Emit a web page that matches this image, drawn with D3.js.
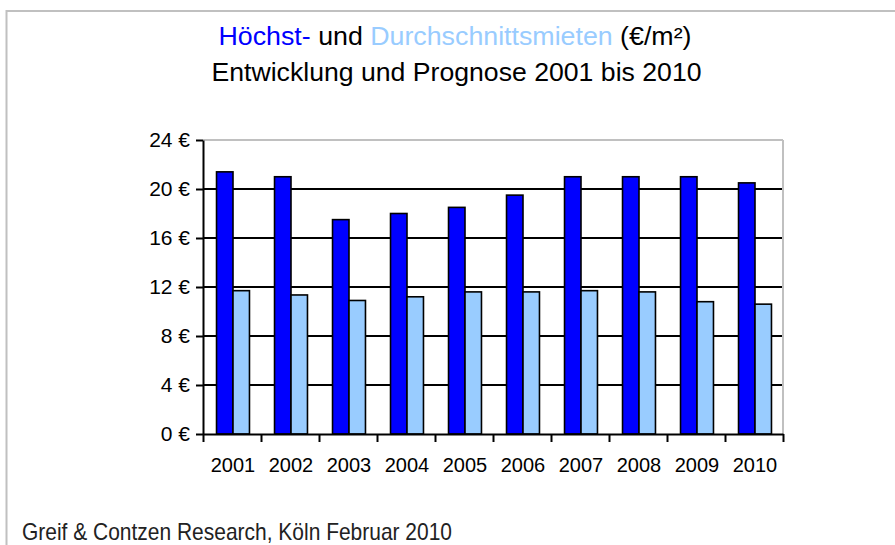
<!DOCTYPE html>
<html>
<head>
<meta charset="utf-8">
<script src="https://cdn.jsdelivr.net/npm/d3@7"></script>
<style>
  body { margin: 0; background: #fff; }
  text { font-family: "Liberation Sans", Arial, Helvetica, sans-serif; }
</style>
</head>
<body>
<script>
// Daten: Hoechst- und Durchschnittsmieten (EUR/m2)
var years = ["2001","2002","2003","2004","2005","2006","2007","2008","2009","2010"]
var hoechst = [21.4, 21.0, 17.5, 18.0, 18.5, 19.5, 21.0, 21.0, 21.0, 20.5]
var durchschnitt = [11.7, 11.35, 10.9, 11.2, 11.6, 11.6, 11.7, 11.6, 10.8, 10.6]
var yTicks = [0, 4, 8, 12, 16, 20, 24]
var seriesNames = ["Höchst", "Durchschnitt"]
var seriesColors = ["#0000ff", "#99ccff"]

var width = 895, height = 545
var plot = {left: 203, right: 783, top: 140, bottom: 434}

var svg = d3.select("body").append("svg")
    .attr("width", width).attr("height", height)

// outer frame
svg.append("rect")
    .attr("x", 6.5).attr("y", 11)
    .attr("width", 900).attr("height", 600)
    .attr("fill", "none").attr("stroke", "#c0c0c0").attr("stroke-width", 2)

// title
var t1 = svg.append("text")
    .attr("x", 455).attr("y", 45)
    .attr("text-anchor", "middle")
    .attr("font-size", 25.5)
    .attr("textLength", 473).attr("lengthAdjust", "spacingAndGlyphs")
t1.append("tspan").attr("fill", seriesColors[0]).text("Höchst-")
t1.append("tspan").attr("fill", "#000").text(" und ")
t1.append("tspan").attr("fill", seriesColors[1]).text("Durchschnittsmieten")
t1.append("tspan").attr("fill", "#000").text(" (€/m²)")

svg.append("text")
    .attr("x", 456.5).attr("y", 81)
    .attr("text-anchor", "middle")
    .attr("font-size", 25.5)
    .attr("textLength", 490).attr("lengthAdjust", "spacingAndGlyphs")
    .text("Entwicklung und Prognose 2001 bis 2010")

// scales
var y = d3.scaleLinear().domain([0, 24]).range([plot.bottom, plot.top])
var x = d3.scaleBand().domain(years).range([plot.left, plot.right]).padding(0)
var x1 = d3.scaleBand().domain(seriesNames).range([0, x.bandwidth()])
    .paddingInner(0).paddingOuter(0.76)
var xb = d3.scaleLinear().domain([0, years.length]).range([plot.left, plot.right])

// gridlines (black), top one is plot border (grey)
svg.append("g").selectAll("line")
    .data(yTicks.filter(function(d){ return d > 0 }))
    .enter().append("line")
    .attr("x1", plot.left).attr("x2", plot.right)
    .attr("y1", function(d){ return y(d) }).attr("y2", function(d){ return y(d) })
    .attr("stroke", function(d){ return d == 24 ? "#c0c0c0" : "#000" })
    .attr("stroke-width", 2)

// right plot border
svg.append("line")
    .attr("x1", plot.right).attr("x2", plot.right)
    .attr("y1", plot.top).attr("y2", plot.bottom)
    .attr("stroke", "#c0c0c0").attr("stroke-width", 2)

// bars
var data = years.map(function(yr, i){
    return {year: yr, values: [hoechst[i], durchschnitt[i]]}
})
var groups = svg.append("g").selectAll("g")
    .data(data).enter().append("g")
    .attr("transform", function(d){ return "translate(" + (x(d.year) + 1) + ",0)" })
groups.selectAll("rect")
    .data(function(d){ return d.values.map(function(v, j){ return {name: seriesNames[j], v: v, j: j} }) })
    .enter().append("rect")
    .attr("x", function(d){ return x1(d.name) })
    .attr("width", x1.bandwidth())
    .attr("y", function(d){ return y(d.v) })
    .attr("height", function(d){ return plot.bottom - y(d.v) })
    .attr("fill", function(d){ return seriesColors[d.j] })
    .attr("stroke", "#000").attr("stroke-width", 1.6)

// y axis
var yAxis = d3.axisLeft(y).tickValues(yTicks).tickSize(7).tickSizeOuter(0).tickPadding(6)
    .tickFormat(function(d){ return d + " €" })
var gy = svg.append("g").attr("transform", "translate(" + plot.left + ",0)").call(yAxis)
gy.selectAll("path, line").attr("stroke", "#000").attr("stroke-width", 2)
gy.selectAll("text").attr("font-size", 21).attr("fill", "#000")
    .attr("font-family", "'Liberation Sans', Arial, sans-serif")

// x axis: ticks at category boundaries
var xAxis = d3.axisBottom(xb).tickValues(d3.range(years.length + 1)).tickSize(8)
    .tickSizeOuter(0).tickFormat("")
var gx = svg.append("g").attr("transform", "translate(0," + plot.bottom + ")").call(xAxis)
gx.selectAll("path, line").attr("stroke", "#000").attr("stroke-width", 2)

// x labels at centers
var xLab = d3.axisBottom(x).tickSize(0).tickPadding(24)
var gl = svg.append("g").attr("transform", "translate(1," + plot.bottom + ")").call(xLab)
gl.select(".domain").remove()
gl.selectAll("text").attr("font-size", 20).attr("fill", "#000")
    .attr("font-family", "'Liberation Sans', Arial, sans-serif")

// source
svg.append("text")
    .attr("x", 22).attr("y", 540)
    .attr("font-size", 24).attr("fill", "#222")
    .attr("textLength", 430).attr("lengthAdjust", "spacingAndGlyphs")
    .text("Greif & Contzen Research, Köln Februar 2010")
</script>
</body>
</html>
